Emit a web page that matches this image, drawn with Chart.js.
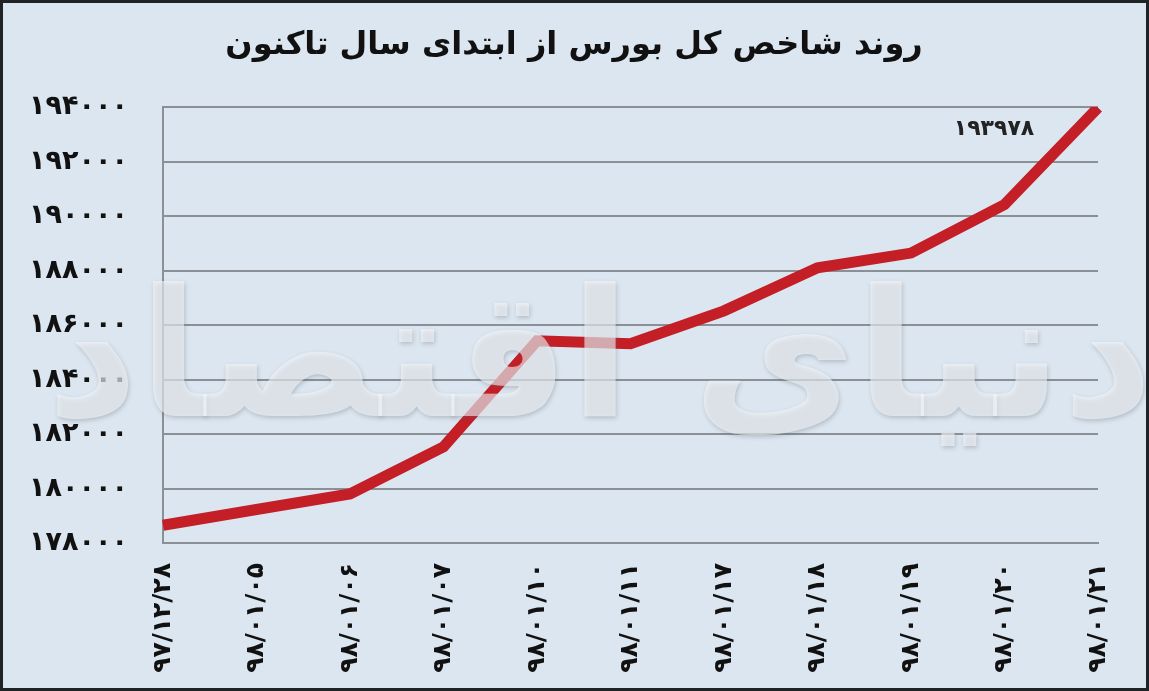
<!DOCTYPE html>
<html>
<head>
<meta charset="utf-8">
<script src="https://cdn.jsdelivr.net/npm/chart.js@4/dist/chart.umd.min.js"></script>
<style>
    html, body { margin: 0; padding: 0; background: #dce6f0; overflow: hidden; }
    #wrap { width: 1149px; height: 691px; position: relative; }
</style>
</head>
<body>
<div id="wrap"><canvas id="bourse-chart" width="1149" height="691"></canvas></div>
<script>
// Tehran stock exchange index since start of year
const chartTitle = 'روند شاخص کل بورس از ابتدای سال تاکنون';
const dates = ['۹۷/۱۲/۲۸', '۹۸/۰۱/۰۵', '۹۸/۰۱/۰۶', '۹۸/۰۱/۰۷', '۹۸/۰۱/۱۰', '۹۸/۰۱/۱۱',
    '۹۸/۰۱/۱۷', '۹۸/۰۱/۱۸', '۹۸/۰۱/۱۹', '۹۸/۰۱/۲۰', '۹۸/۰۱/۲۱'];
const indexValues = [178650, 179230, 179800, 181530, 185420, 185310, 186520, 188100, 188640, 190420, 193978];
const yTicks = [178000, 180000, 182000, 184000, 186000, 188000, 190000, 192000, 194000];
const lastLabel = '۱۹۳۹۷۸';
const watermark = 'دنیای اقتصاد';

const faDigits = '۰۱۲۳۴۵۶۷۸۹';
function toFa(n) {
    return String(n).replace(/[0-9]/g, d => faDigits[d]);
}

const fontFa = '"DejaVu Sans", sans-serif';

const framePlugin = {
    id: 'frame',
    beforeDraw(chart) {
        const ctx = chart.ctx;
        ctx.save();
        ctx.fillStyle = '#dce6f0';
        ctx.fillRect(0, 0, chart.width, chart.height);
        // title
        ctx.fillStyle = '#111';
        ctx.font = 'bold 32px ' + fontFa;
        ctx.textAlign = 'center';
        ctx.textBaseline = 'middle';
        ctx.direction = 'rtl';
        ctx.fillText(chartTitle, 574, 46);
        ctx.restore();
    },
    afterDatasetsDraw(chart) {
        const ctx = chart.ctx;
        ctx.save();
        // watermark
        ctx.font = 'bold 178px ' + fontFa;
        ctx.textAlign = 'center';
        ctx.textBaseline = 'middle';
        ctx.direction = 'rtl';
        ctx.shadowColor = 'rgba(90,100,110,0.5)';
        ctx.shadowBlur = 4;
        ctx.shadowOffsetX = 1;
        ctx.shadowOffsetY = 2;
        ctx.fillStyle = 'rgba(245,248,251,0.6)';
        ctx.fillText(watermark, 600, 370);
        ctx.restore();

        // value label of last point
        const meta = chart.getDatasetMeta(0);
        const last = meta.data[meta.data.length - 1];
        ctx.save();
        ctx.fillStyle = '#222';
        ctx.font = 'bold 22px ' + fontFa;
        ctx.textAlign = 'center';
        ctx.textBaseline = 'middle';
        ctx.fillText(lastLabel, last.x - 104, last.y + 22);
        ctx.restore();
    },
    afterDraw(chart) {
        const ctx = chart.ctx;
        ctx.save();
        ctx.strokeStyle = '#1f2326';
        ctx.lineWidth = 4;
        ctx.strokeRect(1, 1, chart.width - 2, chart.height - 2);
        ctx.restore();
    }
};

new Chart(document.getElementById('bourse-chart'), {
    type: 'line',
    data: {
        labels: dates,
        datasets: [{
            label: 'شاخص کل',
            data: indexValues,
            borderColor: '#c41e26',
            borderWidth: 11,
            borderJoinStyle: 'miter',
            borderCapStyle: 'butt',
            pointRadius: 0,
            tension: 0,
            fill: false,
        }],
    },
    options: {
        responsive: false,
        animation: false,
        devicePixelRatio: 1,
        layout: {
            padding: { top: 107, right: 51, left: 0, bottom: 0 },
        },
        plugins: {
            legend: { display: false },
            tooltip: { enabled: false },
        },
        scales: {
            x: {
                offset: false,
                grid: { display: false, drawTicks: false },
                border: { color: '#8a9096', width: 2 },
                ticks: {
                    color: '#111',
                    font: { family: fontFa, size: 25, weight: 'bold' },
                    minRotation: 90,
                    maxRotation: 90,
                    padding: 20,
                    autoSkip: false,
                },
                afterFit(scale) { scale.height = 148; },
            },
            y: {
                min: 178000,
                max: 194000,
                afterBuildTicks(scale) {
                    scale.ticks = yTicks.map(v => ({ value: v }));
                },
                grid: { color: '#8a9096', lineWidth: 2, drawTicks: false },
                border: { color: '#8a9096', width: 2 },
                ticks: {
                    color: '#111',
                    font: { family: fontFa, size: 27, weight: 'bold' },
                    padding: 35,
                    callback: v => toFa(v),
                },
                afterFit(scale) { scale.width = 163; },
            },
        },
    },
    plugins: [framePlugin],
});
</script>
</body>
</html>
